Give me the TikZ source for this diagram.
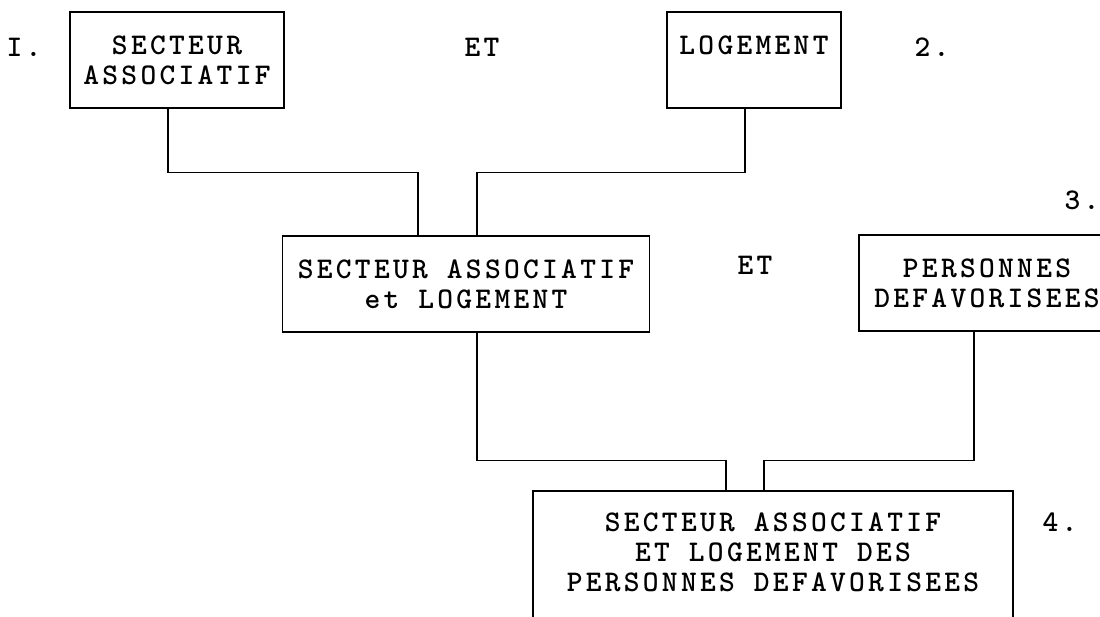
\documentclass[tikz,border=0pt]{standalone}
\usepackage{fontspec}
\setmonofont{lmmono10-regular.otf}[LetterSpace=11, BoldFont=lmmonolt10-bold.otf]

\tikzset{
  box/.style={draw, line width=1.1pt, align=center, inner sep=0pt,
    font=\ttfamily\bfseries\fontsize{30}{30}\selectfont},
  lbl/.style={font=\ttfamily\bfseries\fontsize{30}{30}\selectfont},
  link/.style={line width=1.1pt},
}

\begin{document}
\begin{tikzpicture}[x=1pt, y=-1pt]
  \useasboundingbox (0,0) rectangle (1100,616);
  \clip (0,0) rectangle (1100,616);

  \node[box, minimum width=214pt, minimum height=96pt] (sa) at (177,60) {SECTEUR\\ASSOCIATIF};
  \node[box, minimum width=174pt, minimum height=96pt] (log) at (754,60) {LOGEMENT\\~};
  \node[box, minimum width=367pt, minimum height=96pt] (salog) at (466,284) {SECTEUR ASSOCIATIF\\et LOGEMENT};
  \node[box, minimum width=256pt, minimum height=96pt] (pd) at (987,283) {PERSONNES\\DEFAVORISEES};
  \node[box, minimum width=480pt, minimum height=152pt] (final) at (773,567) {SECTEUR ASSOCIATIF\\ET LOGEMENT DES\\PERSONNES DEFAVORISEES\\~};

  \node[lbl] (n1) at (24,47) {I.};
  \node[lbl] (et1) at (482,47) {ET};
  \node[lbl] (n2) at (932,47) {2.};
  \node[lbl] (n3) at (1082,200) {3.};
  \node[lbl] (et2) at (755,265) {ET};
  \node[lbl] (n4) at (1060,522) {4.};

  \draw[link] ([xshift=-9pt]sa.south) -- ++(0,64) -| ([xshift=-48pt]salog.north);
  \draw[link] ([xshift=-9pt]log.south) -- ++(0,64) -| ([xshift=11pt]salog.north);
  \draw[link] ([xshift=11pt]salog.south) -- ++(0,128) -| ([xshift=-47pt]final.north);
  \draw[link] ([xshift=-13pt]pd.south) -- ++(0,129) -| ([xshift=-9pt]final.north);
\end{tikzpicture}
\end{document}
